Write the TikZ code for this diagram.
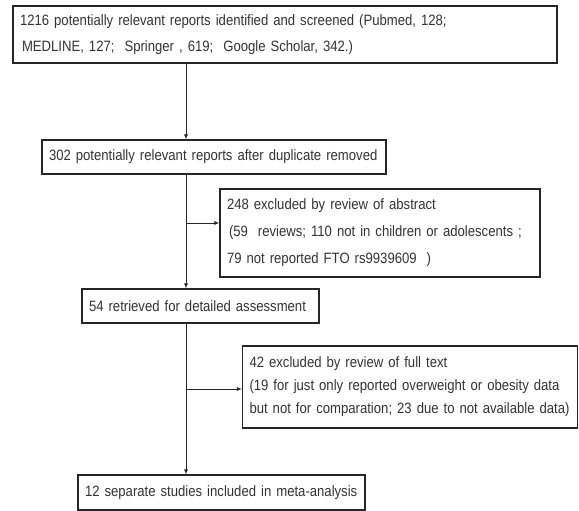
\documentclass[tikz,border=0pt]{standalone}
\usepackage{fontspec}
\setmainfont{Liberation Sans}[FakeStretch=0.875]
\usetikzlibrary{arrows.meta}
\definecolor{inkgray}{HTML}{333333}
\tikzset{
	box/.style={draw=black!85, line width=1.1pt, inner xsep=7pt, inner ysep=0pt, align=left, text=inkgray, font=\fontsize{15}{26}\selectfont},
	flow/.style={line width=0.9pt, draw=black!85, -{Latex[length=5pt,width=4pt]}}
}

\begin{document}
\begin{tikzpicture}[x=1pt,y=-1pt]
		%%%%% START %%%%%
		\useasboundingbox (0,0) rectangle (579,511);
		
		\node[box, minimum width=544pt, minimum height=57pt, text width=530pt] (screened) at (285,34.5)
			{1216 potentially relevant reports identified and screened (Pubmed, 128;\\\hspace{2pt}MEDLINE, 127;\ \ Springer , 619;\ \ Google Scholar, 342.)};
		\node[box, minimum width=344pt, minimum height=34pt, text width=330pt] (dedup) at (214,157)
			{302 potentially relevant reports after duplicate removed};
		\node[box, minimum width=320pt, minimum height=88pt, text width=306pt, font=\fontsize{15}{27}\selectfont] (abstract) at (380,233)
			{248 excluded by review of abstract\\\hspace{2pt}(59\ \ reviews; 110 not in children or adolescents ;\\79 not reported FTO rs9939609\ \ )};
		\node[box, minimum width=237pt, minimum height=34pt, text width=223pt] (retrieved) at (200.5,306)
			{54 retrieved for detailed assessment};
		\node[box, minimum width=335pt, minimum height=82pt, text width=321pt, font=\fontsize{15}{23}\selectfont] (fulltext) at (410,387)
			{42 excluded by review of full text\\(19 for just only reported overweight or obesity data\\but not for comparation; 23 due to not available data)};
		\node[box, minimum width=287pt, minimum height=35pt, text width=273pt] (included) at (221.5,492.5)
			{12 separate studies included in meta-analysis};
		
		% main line and the two side branches
		\coordinate (trunk) at (186,0);
		\coordinate (split1) at (186,223);
		\coordinate (split2) at (186,389);
		
		\draw[flow] (screened.south -| trunk) -- (dedup.north -| trunk);
		\draw[flow] (dedup.south -| trunk) -- (retrieved.north -| trunk);
		\draw[flow] (split1) -- (abstract.west |- split1);
		\draw[flow] (retrieved.south -| trunk) -- (included.north -| trunk);
		\draw[flow] (split2) -- (fulltext.west |- split2);
		%%%%% END %%%%%
	\end{tikzpicture}
\end{document}
